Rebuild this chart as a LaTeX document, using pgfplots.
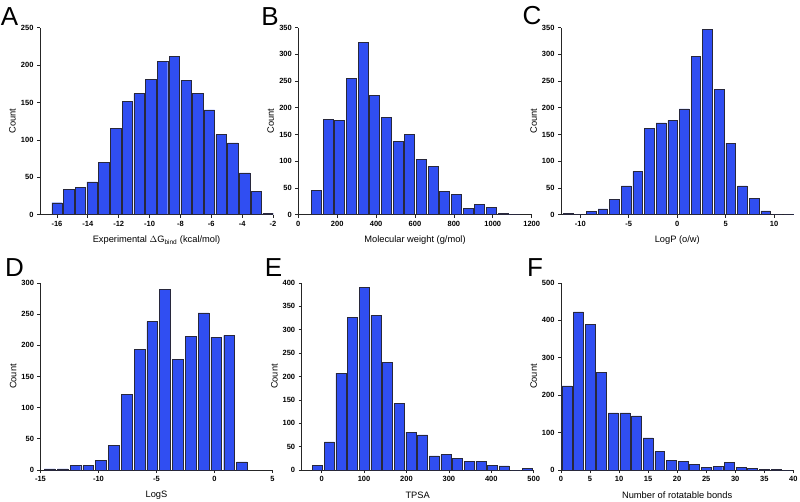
\documentclass[border=0pt]{standalone}
\usepackage{fontspec}
\setmainfont{Liberation Sans}
\usepackage{pgfplots}
\pgfplotsset{compat=1.18}
\definecolor{barblue}{RGB}{48,78,242}
\definecolor{baredge}{RGB}{40,40,60}
\pgfplotsset{
  hist/.style={
    scale only axis, width=232pt, height=187pt,
    axis x line=bottom, axis y line=left,
    axis line style={-, line width=0.8pt, black!85},
    tick align=outside, major tick length=3pt,
    tick style={line width=0.7pt, black!85},
    ymin=0, enlargelimits=false,
    ybar, bar shift=0pt,
    /pgf/number format/assume math mode=true,
    /pgf/number format/1000 sep={},
    tick label style={font=\fontsize{7.5}{8}\selectfont\bfseries},
    label style={font=\fontsize{9.3}{11}\selectfont},
    ylabel={Count},
    xlabel style={at={(axis description cs:0.5,-0.137)}, anchor=center},
    ylabel style={at={(axis description cs:-0.118,0.5)}, anchor=center},
  },
  hbar/.style={fill=barblue, draw=baredge, line width=0.45pt},
}
\begin{document}
\begin{tikzpicture}
\path[use as bounding box] (0pt,0pt) rectangle (800pt,501pt);
% A
\begin{axis}[hist, at={(40pt,286.3pt)}, anchor=south west, width=233pt,
  xmin=-17.1, xmax=-2, ymax=250, xtick={-16,-14,...,-2}, ytick={0,50,...,250},
  bar width=0.675, xlabel={Experimental \(\Delta\)G\textsubscript{bind} (kcal/mol)}]
\addplot[hbar] coordinates {(-16.00,16) (-15.24,34) (-14.48,37) (-13.72,44) (-12.96,70) (-12.20,115) (-11.44,152) (-10.68,162) (-9.92,181) (-9.16,205) (-8.40,212) (-7.64,180) (-6.88,162) (-6.12,140) (-5.36,107) (-4.60,96) (-3.84,56) (-3.08,31) (-2.32,2)};
\end{axis}
% B
\begin{axis}[hist, at={(298.3pt,286.3pt)}, anchor=south west, width=233.4pt,
  xmin=0, xmax=1200, ymax=350, xtick={0,200,...,1200}, ytick={0,50,...,350},
  bar width=51, xlabel={Molecular weight (g/mol)}]
\addplot[hbar] coordinates {(92.5,46) (152.5,179) (212.5,176) (272.5,255) (332.5,323) (392.5,224) (452.5,182) (512.5,137) (572.5,151) (632.5,104) (692.5,90) (752.5,44) (812.5,38) (872.5,12) (932.5,20) (992.5,14) (1052.5,3) (1112.5,1)};
\end{axis}
% C
\begin{axis}[hist, at={(561pt,286.3pt)}, anchor=south west, width=232.5pt,
  xmin=-12, xmax=12, ymax=350, xtick={-10,-5,...,10}, ytick={0,50,...,350},
  bar width=1.0, xlabel={LogP (o/w)}]
\addplot[hbar] coordinates {(-11.28,3) (-10.08,0) (-8.88,6) (-7.68,11) (-6.48,29) (-5.28,54) (-4.08,81) (-2.88,161) (-1.68,172) (-0.48,176) (0.72,198) (1.92,296) (3.12,347) (4.32,235) (5.52,134) (6.72,54) (7.92,30) (9.12,7) (10.32,0) (11.52,1)};
\end{axis}
% D
\begin{axis}[hist, at={(40.5pt,31pt)}, anchor=south west, width=232pt,
  xmin=-15, xmax=5, ymax=300, xtick={-15,-10,...,5}, ytick={0,50,...,300},
  bar width=0.92, xlabel={LogS}]
\addplot[hbar] coordinates {(-14.2,2) (-13.096,2) (-11.992,7) (-10.888,7) (-9.784,15) (-8.68,40) (-7.576,121) (-6.472,194) (-5.368,238) (-4.264,290) (-3.16,177) (-2.056,214) (-0.952,252) (0.152,213) (1.256,216) (2.36,13)};
\end{axis}
% E
\begin{axis}[hist, at={(301.7pt,31pt)}, anchor=south west, width=232pt,
  xmin=-47, xmax=500, ymax=400, xtick={0,100,...,500}, ytick={0,50,...,400},
  bar width=23.5, xlabel={TPSA}]
\addplot[hbar] coordinates {(-9.5,10) (18,60) (45.5,207) (73,326) (100.5,390) (128,331) (155.5,231) (183,142) (210.5,81) (238,75) (265.5,30) (293,33) (320.5,25) (348,19) (375.5,19) (403,10) (430.5,9) (458,0) (485.5,4)};
\end{axis}
% F
\begin{axis}[hist, at={(561pt,31pt)}, anchor=south west, width=232.3pt,
  xmin=0, xmax=40, ymax=500, xtick={0,5,...,40}, ytick={0,100,...,500},
  bar width=1.7, xlabel={Number of rotatable bonds}]
\addplot[hbar] coordinates {(1,225) (3,423) (5,389) (7,262) (9,153) (11,153) (13,145) (15,86) (17,49) (19,26) (21,24) (23,16) (25,7) (27,9) (29,21) (31,7) (33,5) (35,2) (37,1) (39,0)};
\end{axis}
% panel letters
\foreach \l/\x/\y in {A/9.5/16.5, B/270/16.5, C/532/15.5, D/14.5/268, E/273.5/268, F/535/268}
  \node[font=\fontsize{26}{28}\selectfont, anchor=center, inner sep=0pt] at (\x pt,501pt-\y pt) {\l};
\end{tikzpicture}
\end{document}
